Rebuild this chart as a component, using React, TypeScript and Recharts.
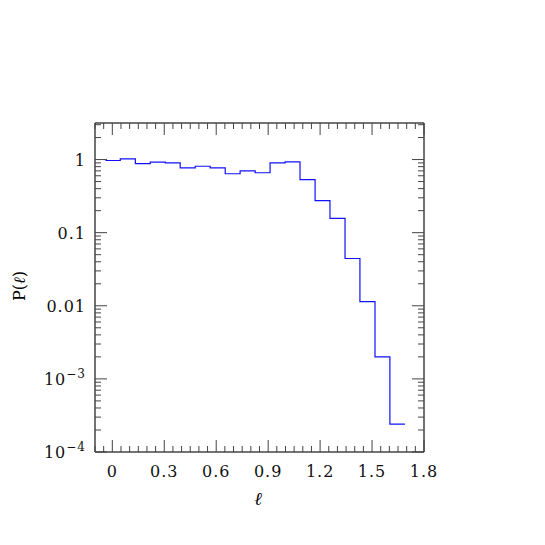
import { ComposedChart, Line, XAxis, YAxis } from 'recharts';

// histogram bin edges (l) and probability per bin
const binEdges = [
  -0.04, 0.046, 0.133, 0.219, 0.306, 0.392, 0.479, 0.565, 0.652, 0.738, 0.825,
  0.911, 0.998, 1.084, 1.171, 1.257, 1.344, 1.43, 1.517, 1.603, 1.69,
];
const probs = [
  0.97, 1.02, 0.88, 0.92, 0.9, 0.77, 0.81, 0.77, 0.64, 0.7, 0.66, 0.9, 0.93,
  0.53, 0.274, 0.157, 0.0443, 0.0114, 0.002, 0.00024,
];
const xMajorTicks = [0, 0.3, 0.6, 0.9, 1.2, 1.5, 1.8];
const yMajorTicks = [1e-4, 1e-3, 0.01, 0.1, 1];
const yLabels: Record<string, [string, string?]> = {
  '1': ['1'],
  '0.1': ['0.1'],
  '0.01': ['0.01'],
  '0.001': ['10', '−3'],
  '0.0001': ['10', '−4'],
};

const X_DOMAIN: [number, number] = [-0.1, 1.8];
const Y_DOMAIN: [number, number] = [1e-4, Math.sqrt(10)];

// step data: each edge carries the value of the bin to its right, last edge closes the final bin
const data = binEdges.map((x, i) => ({ x, p: probs[Math.min(i, probs.length - 1)] }));

// tick positions (majors + minors)
const xTicks: number[] = [];
for (let i = -2; i <= 36; i++) xTicks.push(Math.round(i * 5) / 100);
const yTicks: number[] = [];
for (let e = -4; e <= 0; e++) {
  for (let m = 1; m <= 9; m++) {
    const v = m * Math.pow(10, e);
    if (v <= Y_DOMAIN[1]) yTicks.push(v);
  }
}

const FONT = '"DejaVu Serif", serif';
const AXIS = '#444';

const isXMajor = (v: number) => xMajorTicks.some((t) => Math.abs(t - v) < 1e-6);
const isYMajor = (v: number) => yMajorTicks.some((t) => Math.abs(t - v) / t < 1e-6);

function BottomTick(props: any) {
  const { x, y, payload } = props;
  const v = payload.value;
  const major = isXMajor(v);
  return (
    <g>
      <line x1={x} x2={x} y1={y} y2={y - (major ? 12 : 6)} stroke={AXIS} />
      {major && (
        <text x={x} y={y + 25} textAnchor="middle" fontFamily={FONT} fontSize={16} fill="#111" letterSpacing={1}>
          {v === 0 ? '0' : v.toFixed(1)}
        </text>
      )}
    </g>
  );
}

function TopTick(props: any) {
  const { x, y, payload } = props;
  const major = isXMajor(payload.value);
  return <line x1={x} x2={x} y1={y} y2={y + (major ? 12 : 6)} stroke={AXIS} />;
}

function LeftTick(props: any) {
  const { x, y, payload } = props;
  const v = payload.value;
  const major = isYMajor(v);
  const lab = major ? yLabels[String(v)] : undefined;
  return (
    <g>
      <line x1={x} x2={x + (major ? 12 : 6)} y1={y} y2={y} stroke={AXIS} />
      {lab && (
        <text x={x - 9} y={y + 6} textAnchor="end" fontFamily={FONT} fontSize={16} fill="#111" letterSpacing={1}>
          {lab[0]}
          {lab[1] && (
            <tspan dy={-7} fontSize={12}>
              {lab[1]}
            </tspan>
          )}
        </text>
      )}
    </g>
  );
}

function RightTick(props: any) {
  const { x, y, payload } = props;
  const major = isYMajor(payload.value);
  return <line x1={x} x2={x - (major ? 12 : 6)} y1={y} y2={y} stroke={AXIS} />;
}

export default function App() {
  return (
    <div style={{ position: 'relative', width: 520, height: 520 }}>
      <ComposedChart
        width={520}
        height={520}
        data={data}
        margin={{ top: 114, right: 103, bottom: 16, left: 27 }}
      >
        <XAxis
          xAxisId="b"
          dataKey="x"
          type="number"
          domain={X_DOMAIN}
          ticks={xTicks}
          interval={0}
          allowDataOverflow
          height={60}
          tickSize={0}
          tickMargin={0}
          tickLine={false}
          tick={<BottomTick />}
          axisLine={{ stroke: AXIS, strokeWidth: 1.5 }}
        />
        <XAxis
          xAxisId="t"
          orientation="top"
          dataKey="x"
          type="number"
          domain={X_DOMAIN}
          ticks={xTicks}
          interval={0}
          allowDataOverflow
          height={1}
          tickSize={0}
          tickMargin={0}
          tickLine={false}
          tick={<TopTick />}
          axisLine={{ stroke: AXIS, strokeWidth: 1.5 }}
        />
        <YAxis
          yAxisId="l"
          type="number"
          scale="log"
          domain={Y_DOMAIN}
          ticks={yTicks}
          interval={0}
          allowDataOverflow
          width={60}
          tickSize={0}
          tickMargin={0}
          tickLine={false}
          tick={<LeftTick />}
          axisLine={{ stroke: AXIS, strokeWidth: 1.5 }}
        />
        <YAxis
          yAxisId="r"
          orientation="right"
          type="number"
          scale="log"
          domain={Y_DOMAIN}
          ticks={yTicks}
          interval={0}
          allowDataOverflow
          width={1}
          tickSize={0}
          tickMargin={0}
          tickLine={false}
          tick={<RightTick />}
          axisLine={{ stroke: AXIS, strokeWidth: 1.5 }}
        />
        <Line
          xAxisId="t"
          yAxisId="r"
          dataKey="p"
          type="stepAfter"
          stroke="none"
          dot={false}
          activeDot={false}
          isAnimationActive={false}
        />
        <Line
          xAxisId="b"
          yAxisId="l"
          dataKey="p"
          type="stepAfter"
          stroke="#1010ff"
          strokeWidth={1.2}
          dot={false}
          activeDot={false}
          isAnimationActive={false}
        />
      </ComposedChart>
      <div
        style={{
          position: 'absolute',
          left: 250,
          top: 491,
          transform: 'translate(-50%, -50%)',
          fontFamily: FONT,
          fontSize: 18,
          fontStyle: 'italic',
        }}
      >
        ℓ
      </div>
      <div
        style={{
          position: 'absolute',
          left: 10.5,
          top: 278,
          transform: 'translate(-50%, -50%) rotate(-90deg)',
          fontFamily: FONT,
          fontSize: 16,
          whiteSpace: 'nowrap',
        }}
      >
        P(<i>ℓ</i>)
      </div>
    </div>
  );
}
